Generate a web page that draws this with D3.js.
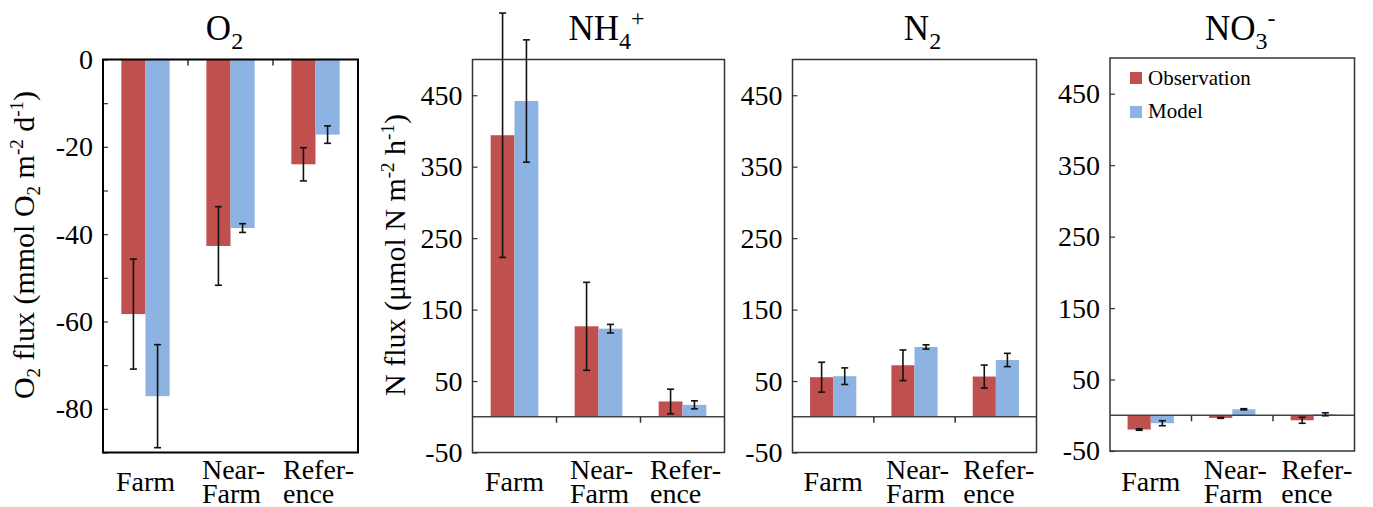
<!DOCTYPE html>
<html>
<head>
<meta charset="utf-8">
<script src="https://cdn.jsdelivr.net/npm/d3@7"></script>
<style>
  body { margin: 0; background: #fff; }
  svg { display: block; }
  text { font-family: "Liberation Serif", "Times New Roman", serif; fill: #000; }
</style>
</head>
<body>
<svg id="chart" width="1373" height="507"></svg>
<script>
// categories and series
const categories = ["Farm", "Near-Farm", "Reference"];
const categoryLines = [["Farm"], ["Near-", "Farm"], ["Refer-", "ence"]];
const seriesNames = ["Observation", "Model"];

const o2Obs = [-58.3, -42.7, -24.0];
const o2ObsErr = [12.6, 9.0, 3.8];
const o2Mod = [-77.1, -38.6, -17.2];
const o2ModErr = [11.8, 1.0, 2.0];

const nh4Obs = [394, 126.6, 21.4];
const nh4ObsErr = [171, 61.6, 17.2];
const nh4Mod = [441.9, 123.3, 16.7];
const nh4ModErr = [85.6, 6.0, 5.6];

const n2Obs = [55.4, 72.1, 56.3];
const n2ObsErr = [20.9, 21.4, 16.1];
const n2Mod = [56.8, 97.7, 79.5];
const n2ModErr = [11.6, 3.0, 9.3];

const no3Obs = [-20, -3.7, -7];
const no3ObsErr = [1, 0.6, 4.2];
const no3Mod = [-11.1, 8.4, 1.4];
const no3ModErr = [3.5, 0.8, 2.1];

const o2Ticks = [-90, -80, -70, -60, -50, -40, -30, -20, -10, 0];
const o2TickLabels = [-80, -60, -40, -20, 0];
const nTicks = [-50, 50, 150, 250, 350, 450];

const colors = { Observation: "#C0504D", Model: "#8DB3E2" };

const svg = d3.select("#chart");

const panels = [
  { title: [["O"], ["2", "sub"]], obs: o2Obs, obsErr: o2ObsErr, mod: o2Mod, modErr: o2ModErr,
    domain: [-90, 0], ticks: o2Ticks, labels: o2TickLabels, left: 103, right: 358, top: 59.5, bottom: 452.5, o2: true },
  { title: [["NH"], ["4", "sub"], ["+", "sup"]], obs: nh4Obs, obsErr: nh4ObsErr, mod: nh4Mod, modErr: nh4ModErr,
    domain: [-50, 500], ticks: nTicks, labels: nTicks, left: 472.5, right: 724.5, top: 59.5, bottom: 452.5 },
  { title: [["N"], ["2", "sub"]], obs: n2Obs, obsErr: n2ObsErr, mod: n2Mod, modErr: n2ModErr,
    domain: [-50, 500], ticks: nTicks, labels: nTicks, left: 792.5, right: 1036.5, top: 59.5, bottom: 452.5 },
  { title: [["NO"], ["3", "sub"], ["-", "sup"]], obs: no3Obs, obsErr: no3ObsErr, mod: no3Mod, modErr: no3ModErr,
    domain: [-50, 500], ticks: nTicks, labels: nTicks, left: 1110, right: 1354.5, top: 58, bottom: 451, legend: true }
];

// writes text parts with sub/superscripts as tspans
function richText(sel, parts, size, small, subDy, supDy) {
  let shift = 0;
  parts.forEach(([t, kind]) => {
    let target = kind === "sub" ? subDy : kind === "sup" ? supDy : 0;
    sel.append("tspan")
      .attr("dy", target - shift)
      .style("font-size", (kind ? small : size) + "px")
      .text(t);
    shift = target;
  });
}

panels.forEach(p => {
  const g = svg.append("g");

  const x0 = d3.scaleBand().domain(categories).range([p.left, p.right]).padding(0);
  const x1 = d3.scaleBand().domain(seriesNames).range([0, x0.bandwidth()])
    .paddingInner(0).paddingOuter(0.76);
  const y = d3.scaleLinear().domain(p.domain).range([p.bottom, p.top]);

  const rows = [];
  categories.forEach((c, i) => {
    rows.push({ cat: c, s: "Observation", v: p.obs[i], e: p.obsErr[i] });
    rows.push({ cat: c, s: "Model", v: p.mod[i], e: p.modErr[i] });
  });

  // bars
  g.selectAll("rect.bar").data(rows).join("rect")
    .attr("class", "bar")
    .attr("x", d => x0(d.cat) + x1(d.s))
    .attr("width", x1.bandwidth())
    .attr("y", d => Math.min(y(0), y(d.v)))
    .attr("height", d => Math.abs(y(d.v) - y(0)))
    .attr("fill", d => colors[d.s]);

  // zero line for N panels
  if (!p.o2) {
    g.append("line")
      .attr("x1", p.left).attr("x2", p.right)
      .attr("y1", y(0)).attr("y2", y(0))
      .attr("stroke", "#444").attr("stroke-width", 1.5);
  }

  // category separator ticks
  categories.slice(1).forEach(c => {
    g.append("line")
      .attr("x1", x0(c)).attr("x2", x0(c))
      .attr("y1", y(0)).attr("y2", y(0) + 6)
      .attr("stroke", "#333").attr("stroke-width", 1.5);
  });

  // error bars
  const capW = 7;
  const cxBar = d => x0(d.cat) + x1(d.s) + x1.bandwidth() / 2;
  const eb = g.selectAll("g.err").data(rows).join("g").attr("class", "err")
    .attr("stroke", "#111").attr("stroke-width", 1.6);
  eb.append("line")
    .attr("x1", cxBar).attr("x2", cxBar)
    .attr("y1", d => y(d.v + d.e)).attr("y2", d => y(d.v - d.e));
  [1, -1].forEach(sign => {
    eb.append("line")
      .attr("x1", d => cxBar(d) - capW / 2)
      .attr("x2", d => cxBar(d) + capW / 2)
      .attr("y1", d => y(d.v + sign * d.e)).attr("y2", d => y(d.v + sign * d.e));
  });

  // y axis
  const yAxis = d3.axisLeft(y).tickValues(p.ticks)
    .tickSizeInner(-5).tickSizeOuter(0).tickPadding(10)
    .tickFormat(d => p.labels.includes(d) ? String(d) : "");
  const ax = g.append("g").attr("transform", `translate(${p.left},0)`).call(yAxis);
  ax.select(".domain").remove();
  ax.selectAll(".tick line").attr("stroke", "#333").attr("stroke-width", 1.2);
  ax.selectAll(".tick text").style("font-size", "28px")
    .style("font-family", "Liberation Serif").attr("fill", "#000");

  // frame
  g.append("rect")
    .attr("x", p.left).attr("y", p.top)
    .attr("width", p.right - p.left).attr("height", p.bottom - p.top)
    .attr("fill", "none")
    .attr("stroke", p.o2 ? "#000" : "#333")
    .attr("stroke-width", p.o2 ? 2 : 1.5);

  // category labels (two-line ones are left aligned as a block)
  categories.forEach((c, i) => {
    const lines = categoryLines[i];
    const cx = x0(c) + x0.bandwidth() / 2;
    const t = g.append("text").style("font-size", "28px");
    if (lines.length === 1) {
      t.attr("x", cx).attr("y", 491).attr("text-anchor", "middle").text(lines[0]);
    } else {
      lines.forEach((ln, j) => {
        t.append("tspan").attr("x", 0).attr("y", 479 + j * 24).text(ln);
      });
      const w = d3.max(t.selectAll("tspan").nodes(), n => n.getComputedTextLength());
      t.selectAll("tspan").attr("x", cx + 3 - w / 2);
    }
  });

  // title
  const title = g.append("text")
    .attr("x", (p.left + p.right) / 2 + (p.o2 ? -6 : 8))
    .attr("y", 40)
    .attr("text-anchor", "middle");
  richText(title, p.title, 35, 24, 9, -14);

  // legend
  if (p.legend) {
    seriesNames.forEach((s, i) => {
      g.append("rect")
        .attr("x", p.left + 20).attr("y", 72 + i * 34)
        .attr("width", 12).attr("height", 12)
        .attr("fill", colors[s]);
      g.append("text")
        .attr("x", p.left + 38).attr("y", 85 + i * 33)
        .style("font-size", "21px")
        .text(s);
    });
  }
});

// y-axis titles
const o2Label = svg.append("text")
  .attr("transform", "translate(34,245) rotate(-90)")
  .attr("text-anchor", "middle");
richText(o2Label, [["O"], ["2", "sub"], [" flux (mmol O"], ["2", "sub"], [" m"], ["-2", "sup"], [" d"], ["-1", "sup"], [")"]],
  30, 19, 6, -11);

const nLabel = svg.append("text")
  .attr("transform", "translate(405,255) rotate(-90)")
  .attr("text-anchor", "middle");
richText(nLabel, [["N flux (\u03bcmol N m"], ["-2", "sup"], [" h"], ["-1", "sup"], [")"]],
  30, 19, 6, -11);
</script>
</body>
</html>
